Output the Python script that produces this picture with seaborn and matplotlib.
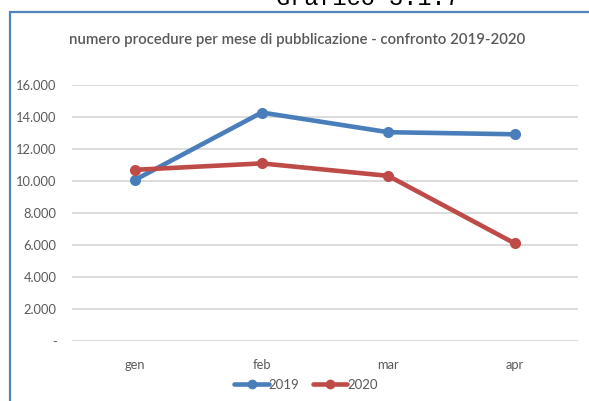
import numpy as np
import pandas as pd
import matplotlib
matplotlib.use("Agg")
import matplotlib.pyplot as plt
from matplotlib.lines import Line2D
from matplotlib.ticker import FuncFormatter
import seaborn as sns

# dati
mesi = ["gen", "feb", "mar", "apr"]
procedure_2019 = [10080, 14280, 13050, 12920]
procedure_2020 = [10700, 11100, 10320, 6100]
anni = ["2019", "2020"]
colori = ["#4A7EBB", "#BE4B48"]

df = pd.DataFrame({
    "mese": mesi * 2,
    "procedure": procedure_2019 + procedure_2020,
    "anno": [anni[0]] * 4 + [anni[1]] * 4,
})

sns.set_style("white")
plt.rcParams["font.family"] = ["Lato", "DejaVu Sans"]
grigio = "#595959"

fig = plt.figure(figsize=(5.89, 4.01), dpi=100)
ax = fig.add_axes([72 / 589, 60 / 401, 506 / 589, 256 / 401])

sns.lineplot(data=df, x="mese", y="procedure", hue="anno", palette=colori,
             marker="o", markersize=8, markeredgewidth=0, linewidth=3.3,
             sort=False, legend=False, ax=ax)

ax.set_xlim(-0.5, 3.5)
ax.set_ylim(0, 16000)
ax.set_yticks(np.arange(0, 16001, 2000))
ax.yaxis.set_major_formatter(FuncFormatter(
    lambda v, p: "-" if v == 0 else f"{int(v):,}".replace(",", ".")))
ax.grid(axis="y", color="#D9D9D9", linewidth=1.3)
ax.set_axisbelow(True)
for s in ax.spines.values():
    s.set_visible(False)
ax.tick_params(axis="both", length=0, labelsize=9.3, labelcolor=grigio)
ax.tick_params(axis="y", pad=11)
ax.tick_params(axis="x", pad=13)
ax.set_xlabel("")
ax.set_ylabel("")

fig.text(297 / 589, 1 - 40 / 401, "numero procedure per mese di pubblicazione - confronto 2019-2020",
         ha="center", va="center", fontsize=10.8, color=grigio, fontweight="semibold")

# titolo esterno tagliato in alto
fig.text(368 / 589, 1 - 5 / 401, "Grafico 3.1.7", ha="center", va="baseline",
         fontsize=17, family="Liberation Mono", color="black")

# cornice blu
fig.add_artist(Line2D([9.5 / 589, 9.5 / 589], [0, 1 - 11.5 / 401],
                      transform=fig.transFigure, color="#4F81BD", linewidth=1.6))
fig.add_artist(Line2D([9.5 / 589, 1], [1 - 11.5 / 401, 1 - 11.5 / 401],
                      transform=fig.transFigure, color="#4F81BD", linewidth=1.6))

handles = [Line2D([], [], color=c, marker="o", markersize=6, linewidth=3.3) for c in colori]
fig.legend(handles, anni, loc="center", bbox_to_anchor=(306 / 589, 1 - 385 / 401),
           ncol=2, frameon=False, fontsize=9.5, labelcolor=grigio,
           handlelength=2.6, handletextpad=0.0, columnspacing=1.0)

fig.savefig("out.png", dpi=100)
